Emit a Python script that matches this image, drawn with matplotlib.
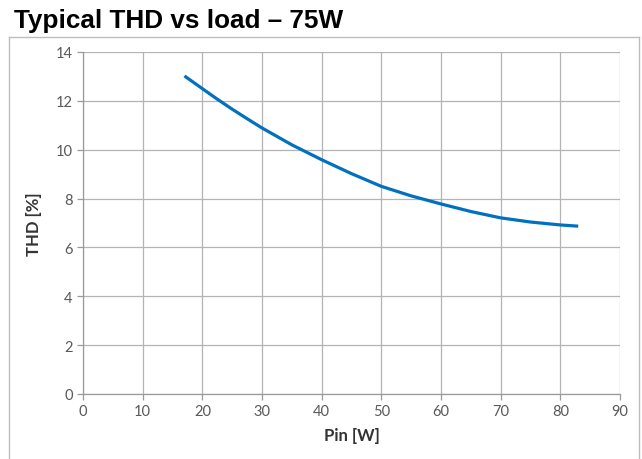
import matplotlib.pyplot as plt
from matplotlib.lines import Line2D

# THD curve
pin = [17, 20, 22.5, 25, 27.5, 30, 35, 40, 45, 50, 55, 60, 65, 70, 75, 80, 83]
thd = [13.02, 12.5, 12.07, 11.66, 11.27, 10.89, 10.2, 9.59, 9.02, 8.5, 8.11, 7.78, 7.47, 7.21, 7.04, 6.92, 6.87]

x_ticks = list(range(0, 91, 10))
y_ticks = list(range(0, 15, 2))

fig = plt.figure(figsize=(6.42, 4.6), dpi=100)
ax = fig.add_axes([83 / 642, 1 - 395 / 460, (620 - 83) / 642, (395 - 53) / 460])

ax.plot(pin, thd, color="#0070C0", linewidth=2.3, solid_capstyle="butt",
        solid_joinstyle="round")

ax.set_xlim(0, 90)
ax.set_ylim(0, 14)
ax.set_xticks(x_ticks)
ax.set_yticks(y_ticks)
ax.grid(True, color="#b4b4b4", linewidth=0.9)
ax.set_axisbelow(True)

for s in ["top", "right"]:
    ax.spines[s].set_visible(False)
for s in ["left", "bottom"]:
    ax.spines[s].set_color("#9a9a9a")
    ax.spines[s].set_linewidth(0.9)

ax.tick_params(axis="both", colors="#9a9a9a", labelcolor="#595959",
               labelsize=10.5, length=4, width=0.9)
for lab in ax.get_xticklabels() + ax.get_yticklabels():
    lab.set_fontfamily("Lato")

ax.set_xlabel("Pin [W]", fontsize=12, fontweight="bold", family="Lato",
              color="#333333", labelpad=6)
ax.set_ylabel("THD [%]", fontsize=12, fontweight="bold", family="Lato",
              color="#333333", labelpad=10)

fig.text(14 / 642, 1 - 21 / 460, "Typical THD vs load \u2013 75W", fontsize=18.8,
         fontweight="bold", family="Liberation Sans", va="center", ha="left")

# chart frame (bottom edge is cut off in the reference)
fc = "#bdbdbd"
x0, x1, yt = 9 / 642, 639 / 642, 1 - 38 / 460
fig.add_artist(Line2D([x0, x1], [yt, yt], color=fc, lw=1.0, transform=fig.transFigure))
fig.add_artist(Line2D([x0, x0], [0, yt], color=fc, lw=1.0, transform=fig.transFigure))
fig.add_artist(Line2D([x1, x1], [0, yt], color=fc, lw=1.0, transform=fig.transFigure))

fig.savefig("out.png", dpi=100)
